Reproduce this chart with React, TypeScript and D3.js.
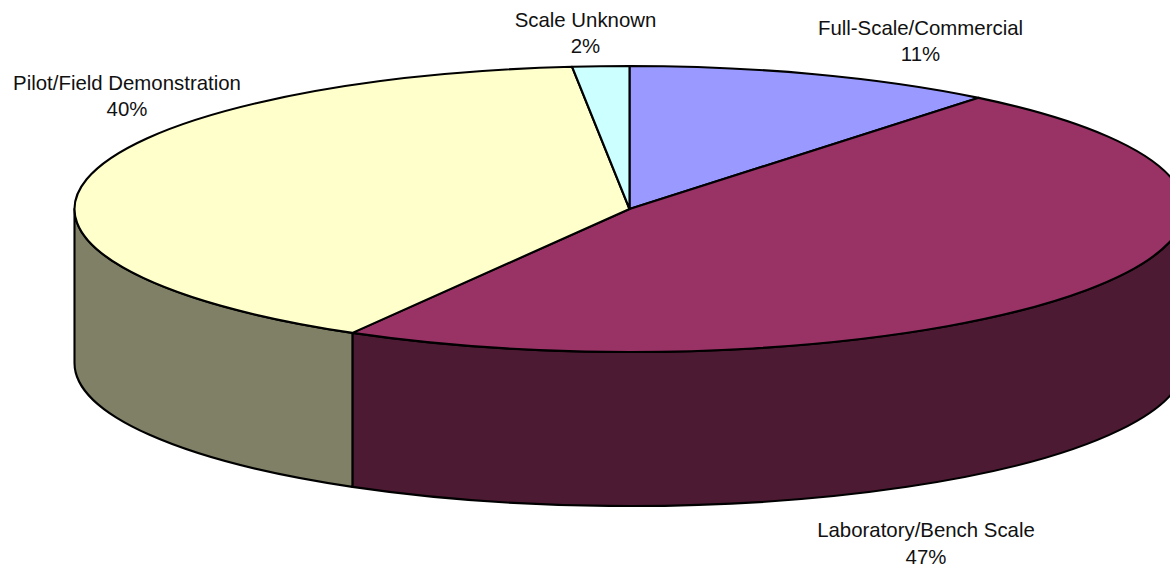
import React from "react";
import * as d3 from "d3";

// Share of projects by development scale, clockwise from twelve o'clock.
const scaleNames = ["Full-Scale/Commercial", "Laboratory/Bench Scale", "Pilot/Field Demonstration", "Scale Unknown"];
const scaleShares = [10.83, 47.49, 40.03, 1.65];
const topColors = ["#9999FF", "#993366", "#FFFFCC", "#CCFFFF"];
const sideColors = ["#4D4D80", "#4D1A33", "#808066", "#668080"];
const labelCentres = [920.5, 926, 127, 585.5];
const labelBaselines = [34.5, 537, 89.5, 26.5];

const WIDTH = 1170;
const HEIGHT = 569;
const CX = 629.5;
const CY = 209;
const RX = 555;
const RY = 143;
const DEPTH = 154;

const xScale = d3.scaleLinear().domain([-1, 1]).range([CX - RX, CX + RX]);
const yScale = d3.scaleLinear().domain([-1, 1]).range([CY - RY, CY + RY]);

// Angle 0 points up and grows clockwise, flattened onto the tilted disc.
const rim = (angle: number, drop = 0): [number, number] => [
  xScale(Math.sin(angle)),
  yScale(-Math.cos(angle)) + drop,
];

const topPath = (a0: number, a1: number) => {
  const [x0, y0] = rim(a0);
  const [x1, y1] = rim(a1);
  const large = a1 - a0 > Math.PI ? 1 : 0;
  return `M${CX},${CY}L${x0},${y0}A${RX},${RY} 0 ${large} 1 ${x1},${y1}Z`;
};

// The wall only shows along the front half of the rim.
const sidePath = (a0: number, a1: number) => {
  const from = Math.max(a0, Math.PI / 2);
  const to = Math.min(a1, (3 * Math.PI) / 2);
  if (to <= from) return null;
  const [x0, y0] = rim(from);
  const [x1, y1] = rim(to);
  const [bx0, by0] = rim(from, DEPTH);
  const [bx1, by1] = rim(to, DEPTH);
  return `M${x0},${y0}A${RX},${RY} 0 0 1 ${x1},${y1}L${bx1},${by1}A${RX},${RY} 0 0 0 ${bx0},${by0}Z`;
};

export default function App() {
  const slices = d3
    .pie<number>()
    .sort(null)
    .startAngle(0)
    .endAngle(2 * Math.PI)(scaleShares);

  return (
    <svg
      width={WIDTH}
      height={HEIGHT}
      viewBox={`0 0 ${WIDTH} ${HEIGHT}`}
      style={{ position: "fixed", left: 0, top: 0, background: "#fff" }}
    >
      <g stroke="#000" strokeWidth={2.1} strokeLinejoin="round">
        {slices.map((s, i) => {
          const d = sidePath(s.startAngle, s.endAngle);
          return d ? <path key={i} d={d} fill={sideColors[i]} /> : null;
        })}
        {slices.map((s, i) => (
          <path key={i} d={topPath(s.startAngle, s.endAngle)} fill={topColors[i]} />
        ))}
      </g>
      <g fontFamily="'Liberation Sans', Arial, sans-serif" fontSize={20.4} fill="#111" textAnchor="middle">
        {scaleNames.map((name, i) => (
          <text key={name} x={labelCentres[i]} y={labelBaselines[i]}>
            <tspan x={labelCentres[i]}>{name}</tspan>
            <tspan x={labelCentres[i]} dy={26.5}>
              {d3.format(".0f")(scaleShares[i])}%
            </tspan>
          </text>
        ))}
      </g>
    </svg>
  );
}
